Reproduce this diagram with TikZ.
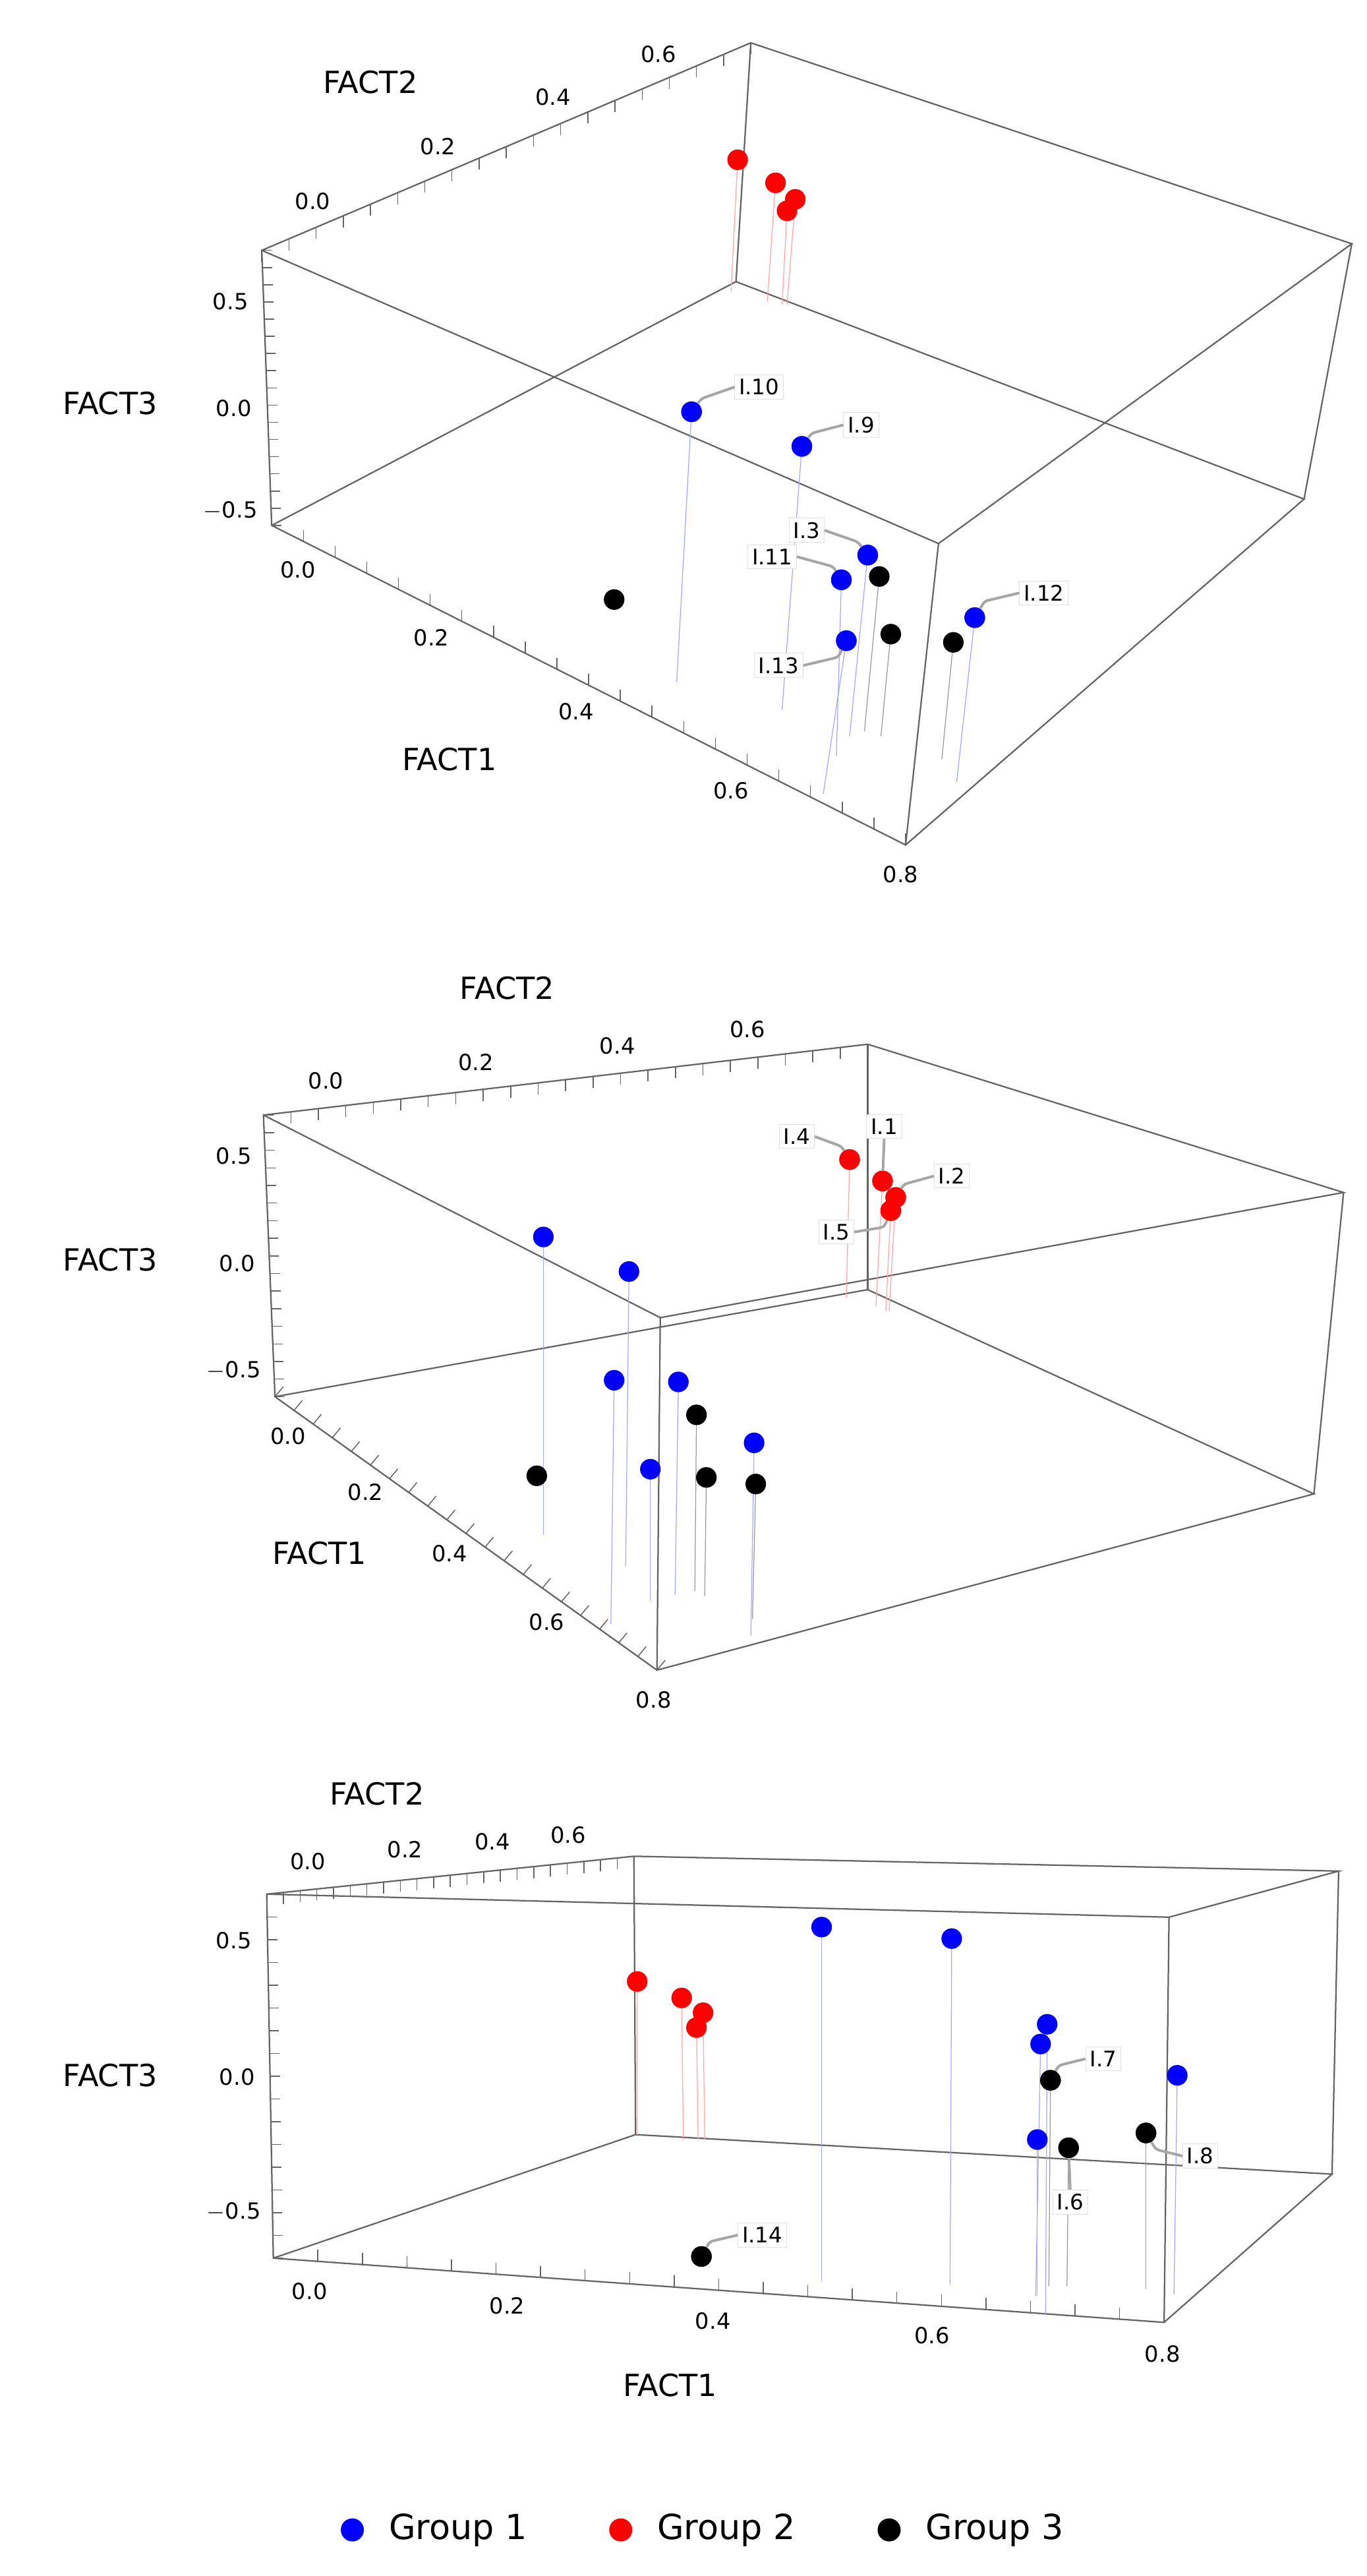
\documentclass[tikz,border=0pt]{standalone}
\usepackage{fontspec}
\setmainfont{DejaVu Sans}
\usetikzlibrary{calc}
\definecolor{edge}{RGB}{100,100,100}
\tikzset{
  x=1pt,y=-1pt,
  boxedge/.style={draw=edge,line width=0.9pt},
  tk/.style={draw=edge,line width=0.6pt},
  ticklab/.style={font=\fontsize{13.5}{13.5}\selectfont,inner sep=0},
  axlab/.style={font=\fontsize{18.5}{18.5}\selectfont,inner sep=0},
  dot/.style={circle,inner sep=0,minimum size=12.5pt},
  db/.style={dot,fill=blue},
  dr/.style={dot,fill=red},
  dk/.style={dot,fill=black},
  stb/.style={draw=blue!35,line width=0.5pt},
  str/.style={draw=red!35,line width=0.5pt},
  stk/.style={draw=black!40,line width=0.5pt},
  lab/.style={draw=black!12,fill=white,font=\fontsize{13}{13}\selectfont,inner sep=2.5pt},
  lead/.style={draw=black!35,line width=1.6pt,rounded corners=2pt},
  legtext/.style={font=\fontsize{21}{21}\selectfont,anchor=west,inner sep=0}
}
\newcommand{\tickrow}[5]{\foreach \i in {0,...,#3} \draw[tk] ($(#1)!{\i/#3}!(#2)$) -- ++(#4,#5);}
\begin{document}
\begin{tikzpicture}
\useasboundingbox (0,0) rectangle (830,1564);
% ================= Panel 1
\coordinate (A1) at (159,152); \coordinate (B1) at (456,26); \coordinate (C1) at (821,148);
\coordinate (F1) at (570,330); \coordinate (G1) at (550,513); \coordinate (L1) at (165,319);
\coordinate (K1) at (447,171); \coordinate (R1) at (792,303);
\draw[boxedge] (A1)--(B1)--(C1)--(F1)--(A1)--(L1)--(G1)--(R1)--(K1)--(L1);
\draw[boxedge] (B1)--(K1); \draw[boxedge] (C1)--(R1); \draw[boxedge] (F1)--(G1);
\tickrow{A1}{B1}{18}{0}{7}
\tickrow{A1}{L1}{16}{6}{0}
\tickrow{L1}{G1}{20}{0}{-7}
\node[axlab] (f2a) at (225,50) {FACT2};
\node[axlab] (f3a) at (67,245) {FACT3};
\node[axlab] (f1a) at (273,461) {FACT1};
\node[ticklab] at (190,122) {0.0}; \node[ticklab] at (266,89) {0.2};
\node[ticklab] at (336,59) {0.4}; \node[ticklab] at (400,33) {0.6};
\node[ticklab] at (140,183) {0.5}; \node[ticklab] at (142,248) {0.0}; \node[ticklab] at (140,310) {$-$0.5};
\node[ticklab] at (181,346) {0.0}; \node[ticklab] at (262,387) {0.2}; \node[ticklab] at (350,432) {0.4};
\node[ticklab] at (444,480) {0.6}; \node[ticklab] at (547,531) {0.8};
% stems
\draw[str] (448,97)--(444,177); \draw[str] (471,111)--(466,183); \draw[str] (483,121)--(478,185); \draw[str] (478,128)--(475,185);
\draw[stb] (420,250)--(411,414); \draw[stb] (487,271)--(475,431); \draw[stb] (527,337)--(516,447);
\draw[stb] (511,352)--(508,459); \draw[stk] (534,350)--(525,444); \draw[stb] (514,389)--(500,482);
\draw[stk] (541,385)--(535,447); \draw[stk] (579,390)--(572,461); \draw[stb] (592,375)--(581,475);
\node[dr] (a1) at (448,97) {}; \node[dr] (a2) at (471,111) {}; \node[dr] (a3) at (483,121) {}; \node[dr] (a4) at (478,128) {};
\node[dk] (a5) at (373,364) {};
\node[db] (a10) at (420,250) {}; \node[db] (a9) at (487,271) {}; \node[db] (a3b) at (527,337) {};
\node[db] (a11) at (511,352) {}; \node[dk] (a6) at (534,350) {}; \node[db] (a13) at (514,389) {};
\node[dk] (a7) at (541,385) {}; \node[dk] (a8) at (579,390) {}; \node[db] (a12) at (592,375) {};
\node[lab] (l10) at (461,235) {I.10}; \node[lab] (l9) at (523,258) {I.9};
\node[lab] (l3) at (490,322) {I.3}; \node[lab] (l11) at (469,338) {I.11};
\node[lab] (l13) at (473,404) {I.13}; \node[lab] (l12) at (634,360) {I.12};
\draw[lead] (a10) -- ++(6,-8) -- (l10.west); \draw[lead] (a9) -- ++(6,-8) -- (l9.west);
\draw[lead] (a3b) -- ++(-6,-8) -- (l3.east); \draw[lead] (a11) -- ++(-5,-8) -- (l11.east);
\draw[lead] (a13) -- ++(-5,10) -- (l13.east); \draw[lead] (a12) -- ++(6,-10) -- (l12.west);
\node[db] at (420,250) {}; \node[db] at (487,271) {}; \node[db] at (527,337) {};
\node[db] at (511,352) {}; \node[db] at (514,389) {}; \node[db] at (592,375) {};
% ================= Panel 2
\coordinate (A2) at (160,677); \coordinate (B2) at (527,634); \coordinate (C2) at (816,724);
\coordinate (F2) at (401,800); \coordinate (G2) at (399,1014); \coordinate (L2) at (167,848);
\coordinate (K2) at (527,783); \coordinate (R2) at (798,907);
\draw[boxedge] (A2)--(B2)--(C2)--(F2)--(A2)--(L2)--(G2)--(R2)--(K2)--(L2);
\draw[boxedge] (B2)--(K2); \draw[boxedge] (C2)--(R2); \draw[boxedge] (F2)--(G2);
\tickrow{A2}{B2}{22}{0}{7}
\tickrow{A2}{L2}{16}{6}{0}
\tickrow{L2}{G2}{20}{5}{-6}
\node[axlab] (f2b) at (308,600) {FACT2};
\node[axlab] (f3b) at (67,765) {FACT3};
\node[axlab] (f1b) at (194,943) {FACT1};
\node[ticklab] at (198,656) {0.0}; \node[ticklab] at (289,645) {0.2};
\node[ticklab] at (375,635) {0.4}; \node[ticklab] at (454,625) {0.6};
\node[ticklab] at (142,702) {0.5}; \node[ticklab] at (144,767) {0.0}; \node[ticklab] at (142,832) {$-$0.5};
\node[ticklab] at (175,872) {0.0}; \node[ticklab] at (222,906) {0.2}; \node[ticklab] at (273,943) {0.4};
\node[ticklab] at (332,985) {0.6}; \node[ticklab] at (397,1032) {0.8};
\draw[str] (516,704)--(514,788); \draw[str] (536,717)--(532,793); \draw[str] (544,727)--(540,796); \draw[str] (541,735)--(538,796);
\draw[stb] (330,751)--(330,932); \draw[stb] (382,772)--(380,951); \draw[stb] (373,838)--(371,986);
\draw[stb] (412,839)--(410,968); \draw[stk] (423,859)--(422,966); \draw[stb] (458,876)--(456,993);
\draw[stb] (395,892)--(395,972); \draw[stk] (429,897)--(428,969); \draw[stk] (459,901)--(457,983);
\node[dr] (b4) at (516,704) {}; \node[dr] (b1) at (536,717) {}; \node[dr] (b2) at (544,727) {}; \node[dr] (b5) at (541,735) {};
\node[db] (b6) at (330,751) {}; \node[db] (b7) at (382,772) {}; \node[db] (b8) at (373,838) {};
\node[db] (b9) at (412,839) {}; \node[dk] (b10) at (423,859) {}; \node[db] (b11) at (458,876) {};
\node[db] (b12) at (395,892) {}; \node[dk] (b13) at (326,896) {}; \node[dk] (b14) at (429,897) {};
\node[dk] (b15) at (459,901) {};
\node[lab] (m4) at (484,690) {I.4}; \node[lab] (m1) at (537,684) {I.1};
\node[lab] (m2) at (578,714) {I.2}; \node[lab] (m5) at (508,748) {I.5};
\draw[lead] (b4) -- ++(-5,-8) -- (m4.east); \draw[lead] (b1) -- (m1.south);
\draw[lead] (b2) -- ++(5,-8) -- (m2.west); \draw[lead] (b5) -- ++(-4,10) -- (m5.east);
\node[dr] at (516,704) {}; \node[dr] at (536,717) {}; \node[dr] at (544,727) {}; \node[dr] at (541,735) {};
% ================= Panel 3
\coordinate (A3) at (162,1150); \coordinate (B3) at (385,1127); \coordinate (C3) at (813,1136);
\coordinate (F3) at (710,1164); \coordinate (G3) at (707,1410); \coordinate (L3) at (166,1371);
\coordinate (K3) at (386,1296); \coordinate (R3) at (809,1320);
\draw[boxedge] (A3)--(B3)--(C3)--(F3)--(A3)--(L3)--(G3)--(R3)--(K3)--(L3);
\draw[boxedge] (B3)--(K3); \draw[boxedge] (C3)--(R3); \draw[boxedge] (F3)--(G3);
\tickrow{A3}{B3}{22}{0}{7}
\tickrow{A3}{L3}{16}{6}{0}
\tickrow{L3}{G3}{20}{0}{-7}
\node[axlab] (f2c) at (229,1089) {FACT2};
\node[axlab] (f3c) at (67,1260) {FACT3};
\node[axlab] (f1c) at (407,1448) {FACT1};
\node[ticklab] at (187,1130) {0.0}; \node[ticklab] at (246,1123) {0.2};
\node[ticklab] at (299,1118) {0.4}; \node[ticklab] at (345,1114) {0.6};
\node[ticklab] at (142,1178) {0.5}; \node[ticklab] at (144,1261) {0.0}; \node[ticklab] at (142,1343) {$-$0.5};
\node[ticklab] at (188,1391) {0.0}; \node[ticklab] at (308,1400) {0.2}; \node[ticklab] at (433,1409) {0.4};
\node[ticklab] at (566,1418) {0.6}; \node[ticklab] at (706,1429) {0.8};
\draw[str] (387,1203)--(387,1296); \draw[str] (414,1213)--(415,1299); \draw[str] (427,1222)--(428,1299); \draw[str] (423,1231)--(424,1299);
\draw[stb] (499,1170)--(499,1385); \draw[stb] (578,1177)--(577,1387); \draw[stb] (636,1229)--(635,1405);
\draw[stb] (632,1241)--(629,1394); \draw[stk] (638,1263)--(637,1388); \draw[stb] (715,1260)--(713,1393);
\draw[stb] (630,1299)--(630,1394); \draw[stk] (649,1304)--(648,1388); \draw[stk] (696,1295)--(696,1390);
\node[dr] (c1) at (387,1203) {}; \node[dr] (c2) at (414,1213) {}; \node[dr] (c3) at (427,1222) {}; \node[dr] (c4) at (423,1231) {};
\node[db] (c5) at (499,1170) {}; \node[db] (c6) at (578,1177) {}; \node[db] (c7) at (636,1229) {};
\node[db] (c8) at (632,1241) {}; \node[dk] (c9) at (638,1263) {}; \node[db] (c10) at (715,1260) {};
\node[db] (c11) at (630,1299) {}; \node[dk] (c12) at (649,1304) {}; \node[dk] (c13) at (696,1295) {};
\node[dk] (c14) at (426,1370) {};
\node[lab] (n7) at (670,1250) {I.7}; \node[lab] (n6) at (650,1337) {I.6};
\node[lab] (n8) at (729,1309) {I.8}; \node[lab] (n14) at (463,1357) {I.14};
\draw[lead] (c9) -- ++(5,-9) -- (n7.west); \draw[lead] (c12) -- (n6.north);
\draw[lead] (c13) -- ++(6,10) -- (n8.west); \draw[lead] (c14) -- ++(5,-9) -- (n14.west);
\node[dk] at (638,1263) {}; \node[dk] at (649,1304) {}; \node[dk] at (696,1295) {}; \node[dk] at (426,1370) {};
% ================= Legend
\node[db,minimum size=14pt] (g1) at (214,1536) {}; \node[legtext] (t1) at (236,1536) {Group 1};
\node[dr,minimum size=14pt] (g2) at (377,1536) {}; \node[legtext] (t2) at (399,1536) {Group 2};
\node[dk,minimum size=14pt] (g3) at (540,1536) {}; \node[legtext] (t3) at (562,1536) {Group 3};
\end{tikzpicture}
\end{document}
